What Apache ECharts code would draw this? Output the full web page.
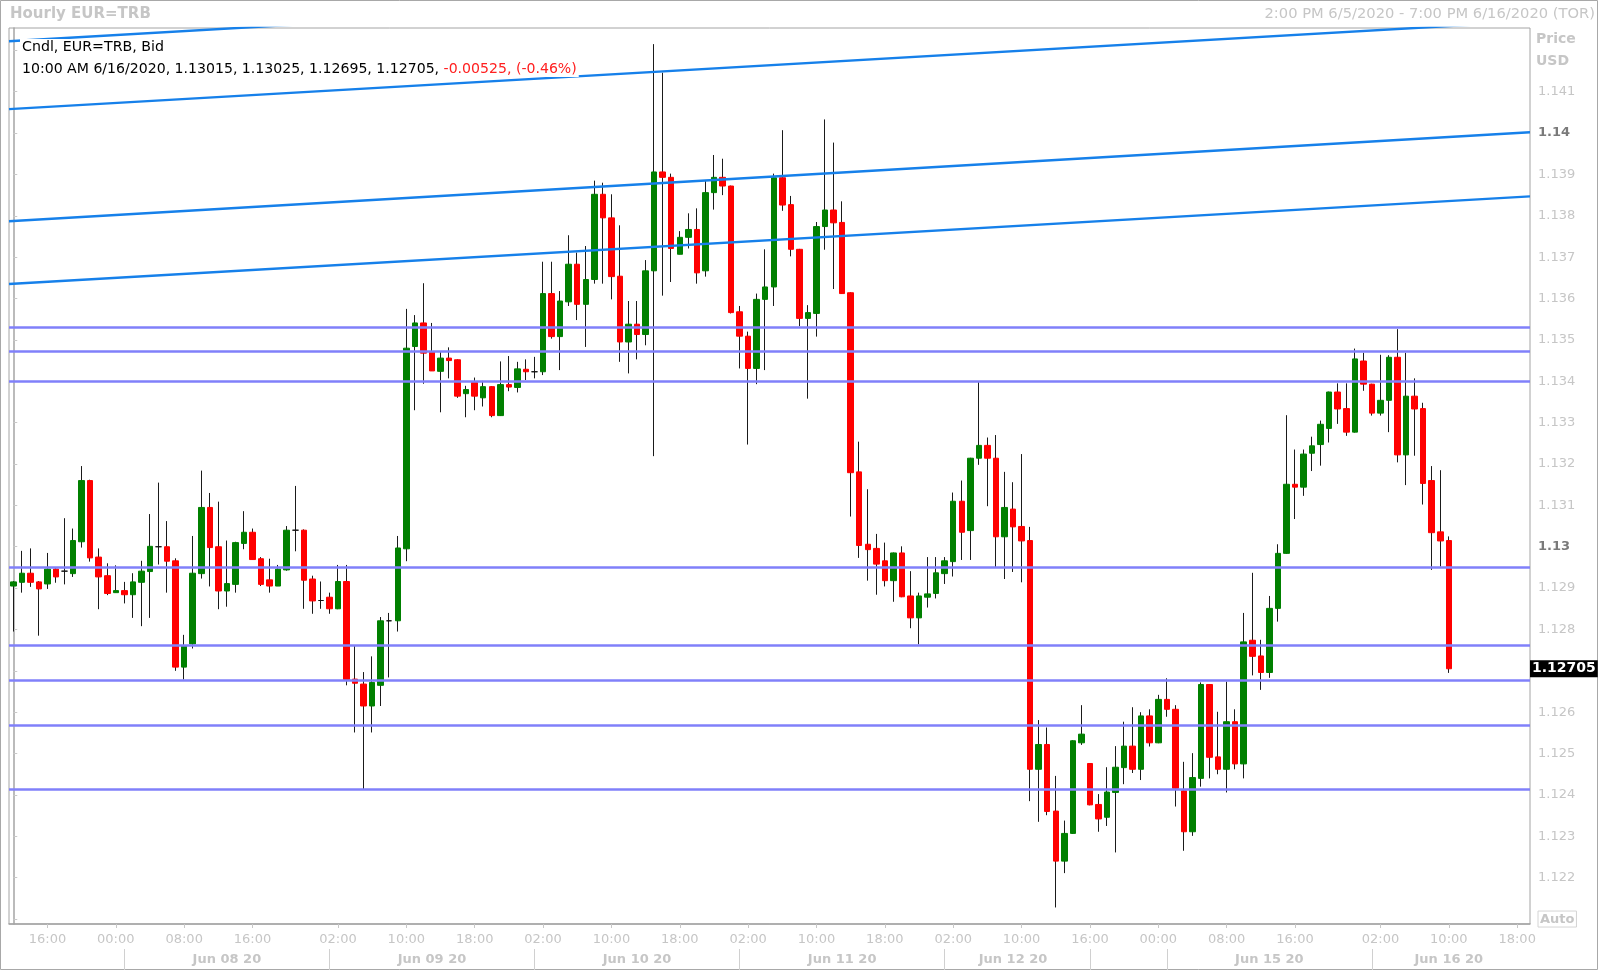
<!DOCTYPE html>
<html><head><meta charset="utf-8">
<script src="https://cdn.jsdelivr.net/npm/echarts@6/dist/echarts.min.js"></script>
<style>html,body{margin:0;padding:0;background:#fff}#c{width:1600px;height:972px}</style>
</head><body><div id="c"></div>
<script>
const FONT = '"DejaVu Sans",Verdana,Tahoma,sans-serif';

// trading sessions: [day, first hour, last hour]
const sessions = [
  ['Jun 05', 14, 16], ['Jun 07', 15, 23], ['Jun 08', 0, 23], ['Jun 09', 0, 23],
  ['Jun 10', 0, 23], ['Jun 11', 0, 23], ['Jun 12', 0, 16], ['Jun 14', 15, 23],
  ['Jun 15', 0, 23], ['Jun 16', 0, 19]
];
const categories = [];
sessions.forEach(([d, a, b]) => { for (let h = a; h <= b; h++) categories.push(d + ' ' + String(h).padStart(2, '0') + ':00'); });

const timeTicks = ['Jun 07 16:00','Jun 08 00:00','Jun 08 08:00','Jun 08 16:00','Jun 09 02:00','Jun 09 10:00','Jun 09 18:00',
  'Jun 10 02:00','Jun 10 10:00','Jun 10 18:00','Jun 11 02:00','Jun 11 10:00','Jun 11 18:00','Jun 12 02:00','Jun 12 10:00',
  'Jun 14 16:00','Jun 15 00:00','Jun 15 08:00','Jun 15 16:00','Jun 16 02:00','Jun 16 10:00','Jun 16 18:00'];
const dayLabels = {'Jun 08 13:00':'Jun 08 20','Jun 09 13:00':'Jun 09 20','Jun 10 13:00':'Jun 10 20','Jun 11 13:00':'Jun 11 20',
  'Jun 12 09:00':'Jun 12 20','Jun 15 13:00':'Jun 15 20','Jun 16 10:00':'Jun 16 20'};
const daySeparators = ['Jun 08 01:00','Jun 09 01:00','Jun 10 01:00','Jun 11 01:00','Jun 12 01:00','Jun 14 16:00','Jun 15 01:00','Jun 16 01:00'];

const opens = [1.12905,1.12914,1.12936,1.12915,1.12910,1.12946,1.12941,1.12935,1.13012,1.13160,
1.12975,1.12930,1.12889,1.12894,1.12884,1.12914,1.12940,1.13000,1.13000,1.12966,
1.12709,1.12765,1.12935,1.13095,1.13000,1.12893,1.12909,1.13008,1.13035,1.12971,
1.12920,1.12905,1.12944,1.13040,1.13040,1.12922,1.12870,1.12878,1.12850,1.12916,
1.12680,1.12668,1.12615,1.12665,1.12821,1.12821,1.12995,1.13484,1.13541,1.13472,
1.13424,1.13456,1.13452,1.13370,1.13397,1.13360,1.13387,1.13317,1.13392,1.13385,
1.13429,1.13423,1.13423,1.13612,1.13508,1.13592,1.13683,1.13586,1.13646,1.13852,
1.13795,1.13654,1.13495,1.13538,1.13513,1.13667,1.13906,1.13893,1.13707,1.13748,
1.13767,1.13667,1.13856,1.13893,1.13872,1.13568,1.13509,1.13431,1.13598,1.13628,
1.13892,1.13827,1.13719,1.13552,1.13564,1.13774,1.13814,1.13784,1.13614,1.13181,
1.13006,1.12996,1.12966,1.12918,1.12985,1.12881,1.12828,1.12878,1.12887,1.12935,
1.12964,1.13110,1.13039,1.13214,1.13245,1.13214,1.13024,1.13091,1.13049,1.13015,
1.12462,1.12522,1.12361,1.12240,1.12307,1.12526,1.12476,1.12377,1.12346,1.12406,
1.12466,1.12518,1.12462,1.12591,1.12526,1.12631,1.12607,1.12410,1.12311,1.12440,
1.12667,1.12492,1.12462,1.12577,1.12475,1.12774,1.12736,1.12696,1.12851,1.12984,
1.13151,1.13144,1.13226,1.13247,1.13286,1.13374,1.13334,1.13277,1.13449,1.13393,
1.13323,1.13354,1.13458,1.13222,1.13364,1.13334,1.13160,1.13036,1.13015];
const highs = [1.12917,1.12990,1.12996,1.12917,1.12985,1.12948,1.13069,1.13044,1.13195,1.13162,
1.12996,1.12960,1.12955,1.12915,1.12936,1.12966,1.13079,1.13155,1.13062,1.12972,
1.12787,1.13026,1.13184,1.13130,1.13109,1.13015,1.13012,1.13086,1.13044,1.12975,
1.12971,1.12956,1.13050,1.13147,1.13042,1.12930,1.12916,1.12889,1.12956,1.12956,
1.12762,1.12697,1.12735,1.12830,1.12840,1.13026,1.13575,1.13560,1.13637,1.13541,
1.13472,1.13482,1.13453,1.13389,1.13409,1.13401,1.13388,1.13448,1.13461,1.13447,
1.13453,1.13459,1.13689,1.13689,1.13618,1.13753,1.13711,1.13727,1.13885,1.13880,
1.13852,1.13777,1.13594,1.13594,1.13693,1.14215,1.14146,1.13902,1.13763,1.13806,
1.13818,1.13884,1.13947,1.13938,1.13873,1.13582,1.13520,1.13612,1.13719,1.13902,
1.14007,1.13848,1.13720,1.13584,1.13785,1.14033,1.13977,1.13835,1.13615,1.13254,
1.13139,1.13031,1.13010,1.12986,1.13001,1.12941,1.12889,1.12975,1.12975,1.12975,
1.13131,1.13160,1.13215,1.13398,1.13264,1.13270,1.13181,1.13156,1.13224,1.13048,
1.12581,1.12563,1.12446,1.12338,1.12532,1.12617,1.12477,1.12402,1.12467,1.12518,
1.12577,1.12612,1.12600,1.12607,1.12642,1.12682,1.12617,1.12480,1.12501,1.12672,
1.12668,1.12601,1.12674,1.12607,1.12840,1.12937,1.12775,1.12881,1.13006,1.13318,
1.13235,1.13235,1.13266,1.13305,1.13375,1.13395,1.13395,1.13479,1.13469,1.13394,
1.13464,1.13463,1.13526,1.13469,1.13407,1.13348,1.13195,1.13185,1.13025];
const lows = [1.12795,1.12889,1.12903,1.12785,1.12898,1.12913,1.12909,1.12927,1.12998,1.12964,
1.12849,1.12883,1.12889,1.12863,1.12828,1.12808,1.12828,1.12957,1.12889,1.12700,
1.12679,1.12754,1.12923,1.12904,1.12849,1.12855,1.12889,1.12994,1.12969,1.12905,
1.12889,1.12905,1.12942,1.12989,1.12850,1.12838,1.12850,1.12838,1.12849,1.12665,
1.12551,1.12414,1.12551,1.12615,1.12684,1.12795,1.12965,1.13330,1.13394,1.13425,
1.13325,1.13407,1.13360,1.13313,1.13330,1.13339,1.13313,1.13316,1.13376,1.13373,
1.13403,1.13407,1.13415,1.13503,1.13427,1.13582,1.13548,1.13483,1.13636,1.13636,
1.13598,1.13447,1.13419,1.13453,1.13487,1.13219,1.13607,1.13640,1.13707,1.13721,
1.13636,1.13653,1.13815,1.13850,1.13564,1.13431,1.13247,1.13393,1.13427,1.13582,
1.13812,1.13702,1.13533,1.13358,1.13508,1.13718,1.13623,1.13611,1.13073,1.12973,
1.12918,1.12884,1.12904,1.12867,1.12878,1.12803,1.12764,1.12853,1.12875,1.12910,
1.12928,1.12968,1.12968,1.13198,1.13098,1.12950,1.12922,1.12939,1.12914,1.12385,
1.12335,1.12351,1.12128,1.12211,1.12306,1.12521,1.12375,1.12311,1.12325,1.12261,
1.12426,1.12453,1.12436,1.12517,1.12525,1.12589,1.12372,1.12265,1.12301,1.12420,
1.12440,1.12450,1.12406,1.12462,1.12440,1.12689,1.12654,1.12683,1.12819,1.12983,
1.13067,1.13123,1.13183,1.13196,1.13252,1.13297,1.13268,1.13276,1.13377,1.13317,
1.13317,1.13277,1.13204,1.13149,1.13220,1.13102,1.12944,1.12952,1.12695];
const closes = [1.12915,1.12936,1.12914,1.12898,1.12946,1.12927,1.12941,1.13015,1.13160,1.12973,
1.12927,1.12887,1.12894,1.12884,1.12915,1.12941,1.13001,1.13000,1.12965,1.12709,
1.12760,1.12936,1.13095,1.12998,1.12893,1.12911,1.13010,1.13035,1.12969,1.12909,
1.12905,1.12946,1.13040,1.13040,1.12919,1.12869,1.12870,1.12850,1.12916,1.12679,
1.12670,1.12615,1.12672,1.12821,1.12821,1.12997,1.13480,1.13541,1.13468,1.13425,
1.13456,1.13450,1.13364,1.13380,1.13364,1.13387,1.13317,1.13392,1.13386,1.13430,
1.13423,1.13423,1.13612,1.13508,1.13594,1.13683,1.13586,1.13646,1.13852,1.13795,
1.13653,1.13495,1.13538,1.13513,1.13667,1.13906,1.13893,1.13721,1.13748,1.13767,
1.13662,1.13856,1.13893,1.13872,1.13566,1.13509,1.13431,1.13598,1.13628,1.13892,
1.13826,1.13719,1.13552,1.13566,1.13774,1.13814,1.13783,1.13612,1.13179,1.13003,
1.12993,1.12958,1.12918,1.12985,1.12879,1.12828,1.12881,1.12886,1.12937,1.12966,
1.13110,1.13035,1.13214,1.13245,1.13214,1.13024,1.13095,1.13048,1.13014,1.12462,
1.12522,1.12360,1.12240,1.12307,1.12531,1.12547,1.12376,1.12342,1.12407,1.12467,
1.12518,1.12462,1.12591,1.12526,1.12631,1.12607,1.12416,1.12311,1.12442,1.12667,
1.12491,1.12462,1.12577,1.12475,1.12770,1.12735,1.12696,1.12851,1.12984,1.13151,
1.13144,1.13224,1.13244,1.13296,1.13374,1.13333,1.13277,1.13454,1.13393,1.13323,
1.13354,1.13458,1.13222,1.13364,1.13333,1.13153,1.13034,1.13014,1.12705];

// horizontal support/resistance levels
const levels = [1.13531, 1.13472, 1.13401, 1.12950, 1.12762, 1.12677, 1.12568, 1.12414];
// parallel trend lines: [price at left edge, price at right edge]
const trendLines = [[1.14222, 1.14435], [1.14058, 1.14270], [1.13787, 1.14002], [1.13635, 1.13847]];

const GREEN = '#008000', RED = '#ff0000', BLUE = '#1680ea', PURPLE = '#8080fa';
const LIGHT = '#c6c6c6';

const chart = echarts.init(document.getElementById('c'), null, {renderer: 'canvas'});
const wickData = opens.map((o, i) => [o, closes[i], lows[i], highs[i]]);
const bodyData = opens.map((o, i) => {
  const c = closes[i];
  const item = {value: [o, c, Math.min(o, c), Math.max(o, c)]};
  if (o === c) item.itemStyle = {color: '#111', color0: '#111', borderColor: '#111', borderColor0: '#111'};
  return item;
});
const last = closes.length - 1;
const N = categories.length;

const option = {
  animation: false,
  backgroundColor: '#fff',
  textStyle: {fontFamily: FONT},
  grid: {left: 9, right: 70, top: 28, bottom: 48, show: true, borderColor: '#a4a4a4', borderWidth: 1},
  xAxis: [
    {
      type: 'category', data: categories, boundaryGap: true,
      axisLine: {show: true, lineStyle: {color: '#a4a4a4', width: 1.5}},
      axisTick: {show: true, alignWithLabel: true, length: 4, lineStyle: {color: '#c8c8c8'},
        interval: (i, v) => timeTicks.includes(v)},
      axisLabel: {show: true, interval: (i, v) => timeTicks.includes(v), formatter: v => v.slice(7),
        color: LIGHT, fontSize: 13, fontFamily: FONT, margin: 9},
      splitLine: {show: false}
    },
    {
      type: 'category', data: categories, boundaryGap: true, position: 'bottom', offset: 25,
      axisLine: {show: false},
      axisTick: {show: true, alignWithLabel: true, length: 21, lineStyle: {color: '#d0d0d0'},
        interval: (i, v) => daySeparators.includes(v)},
      axisLabel: {show: true, interval: (i, v) => v in dayLabels, formatter: v => dayLabels[v] || '',
        color: LIGHT, fontSize: 13, fontWeight: 'bold', fontFamily: FONT, margin: 4},
      splitLine: {show: false}
    },
    {type: 'value', min: -0.5, max: N - 0.5, show: false}
  ],
  yAxis: {
    type: 'value', position: 'right', min: 1.12088, max: 1.14254, splitNumber: 20, scale: true,
    axisLine: {show: true, lineStyle: {color: '#a4a4a4', width: 1.5}},
    axisTick: {show: true, length: 4, lineStyle: {color: '#c8c8c8'}},
    splitLine: {show: false},
    axisLabel: {
      margin: 8, color: LIGHT, fontSize: 13, fontFamily: FONT,
      showMinLabel: false, showMaxLabel: false,
      formatter: v => {
        const k = Math.round(v * 1000);
        if (Math.abs(v * 1000 - k) > 1e-3) return '';
        if (k === 1142) return '';
        if (k === 1121) return '{auto|Auto}';
        if (k % 10 === 0) return '{b|' + (k / 1000).toFixed(2) + '}';
        return (k / 1000).toFixed(3);
      },
      rich: {
        b: {color: '#7a7a7a', fontWeight: 'bold', fontSize: 13, fontFamily: FONT},
        auto: {color: LIGHT, fontWeight: 'bold', fontSize: 13, fontFamily: FONT, borderColor: '#d4d4d4', borderWidth: 1, padding: [2, 2, 1, 2]}
      }
    }
  },
  series: [
    {
      name: 'wick', type: 'candlestick', xAxisIndex: 0, data: wickData, barWidth: 1, silent: true,
      itemStyle: {color: '#1a1a1a', color0: '#1a1a1a', borderColor: '#1a1a1a', borderColor0: '#1a1a1a', borderWidth: 1}
    },
    {
      name: 'body', type: 'candlestick', xAxisIndex: 0, data: bodyData, barWidth: 6, silent: true,
      itemStyle: {color: GREEN, color0: RED, borderColor: GREEN, borderColor0: RED, borderWidth: 1},
      markLine: {
        silent: true, symbol: ['none', 'none'], animation: false, precision: 5,
        lineStyle: {color: PURPLE, width: 2.5, type: 'solid'},
        label: {show: false},
        data: levels.map(v => ({yAxis: v}))
      }
    },
    ...trendLines.map((t, k) => ({
      name: 'trend' + k, type: 'line', xAxisIndex: 2, yAxisIndex: 0, silent: true, clip: true,
      symbol: 'none', lineStyle: {color: BLUE, width: 2.4},
      data: [[-0.5, t[0]], [N - 0.5, t[1]]],
      z: 4
    }))
  ],
  graphic: [
    {type: 'rect', silent: true, shape: {x: 0.5, y: 0.5, width: 1597, height: 969}, style: {fill: 'none', stroke: '#a8a8a8', lineWidth: 1}},
    {type: 'text', silent: true, left: 10, top: 7, style: {text: 'Hourly EUR=TRB', fill: LIGHT, font: 'bold 15px ' + FONT}},
    {type: 'text', silent: true, right: 5, top: 7, style: {text: '2:00 PM 6/5/2020 - 7:00 PM 6/16/2020 (TOR)', fill: LIGHT, font: '14.7px ' + FONT}},
    {type: 'text', silent: true, left: 1536, top: 32, style: {text: 'Price', fill: LIGHT, font: 'bold 14px ' + FONT}},
    {type: 'text', silent: true, left: 1536, top: 54, style: {text: 'USD', fill: LIGHT, font: 'bold 14px ' + FONT}},
    {type: 'text', silent: true, left: 20, top: 39, z: 10, style: {text: 'Cndl, EUR=TRB, Bid', fill: '#000', font: '14.2px ' + FONT,
      lineHeight: 16, backgroundColor: '#fff', padding: [0, 2, 0, 2]}},
    {type: 'text', silent: true, left: 20, top: 61, z: 10, style: {
      text: '10:00 AM 6/16/2020, ' + [opens[last], highs[last], lows[last], closes[last]].map(v => v.toFixed(5)).join(', ') + ', {r|-0.00525, (-0.46%)}',
      fill: '#000', font: '14.1px ' + FONT, lineHeight: 16, backgroundColor: '#fff', padding: [0, 2, 0, 2],
      rich: {r: {fill: '#ff2020', font: '14.1px ' + FONT, lineHeight: 16}}
    }}
  ]
};
chart.setOption(option);

// last-price tag on the price axis, placed through the axis scales
const tagY = chart.convertToPixel({yAxisIndex: 0}, closes[last]);
const axisX = chart.convertToPixel({xAxisIndex: 2}, N - 0.5);
chart.setOption({graphic: option.graphic.concat([{
  type: 'text', silent: true, z: 20, x: axisX, y: tagY,
  style: {text: closes[last].toFixed(5), fill: '#fff', font: 'bold 14px ' + FONT, backgroundColor: '#000',
    padding: [2, 2, 1, 2], verticalAlign: 'middle', align: 'left'}
}])});
</script>
</body></html>
